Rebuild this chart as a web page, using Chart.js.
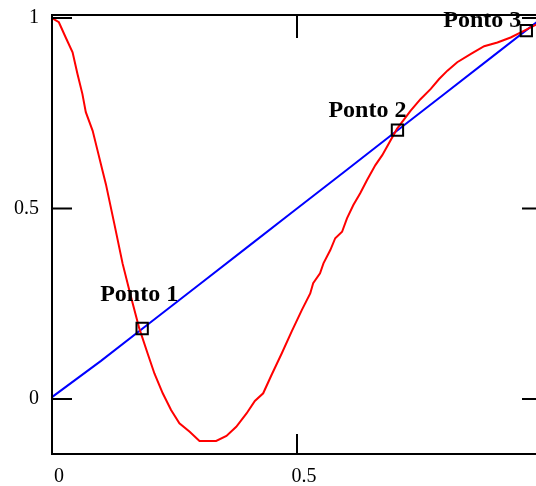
<!DOCTYPE html>
<html>
<head>
<meta charset="utf-8">
<script src="https://cdn.jsdelivr.net/npm/chart.js@4"></script>
<style>
  html, body { margin:0; padding:0; background:#fff; overflow:hidden; }
  #wrap { width:552px; height:486px; }
</style>
</head>
<body>
<div id="wrap"><canvas id="plot" width="552" height="486"></canvas></div>
<script>
// curve f (red), sampled
const redX = [0, 0.014, 0.028, 0.042, 0.052, 0.062, 0.069, 0.083, 0.093, 0.103, 0.110, 0.127,
  0.144, 0.161, 0.178, 0.195, 0.209, 0.226, 0.243, 0.260, 0.281, 0.301, 0.335, 0.356, 0.376,
  0.397, 0.414, 0.431, 0.448, 0.469, 0.489, 0.510, 0.527, 0.533, 0.547, 0.554, 0.568, 0.578,
  0.592, 0.602, 0.615, 0.629, 0.643, 0.660, 0.674, 0.704, 0.732, 0.752, 0.773, 0.790, 0.807,
  0.827, 0.855, 0.882, 0.909, 0.936, 0.964, 0.984, 1.0];
const redY = [1.0, 0.989, 0.949, 0.910, 0.853, 0.801, 0.753, 0.704, 0.652, 0.600, 0.564, 0.461,
  0.356, 0.269, 0.186, 0.120, 0.067, 0.015, -0.029, -0.064, -0.086, -0.110, -0.110, -0.097, -0.073,
  -0.038, -0.005, 0.015, 0.063, 0.120, 0.177, 0.234, 0.277, 0.304, 0.330, 0.356, 0.391, 0.422,
  0.439, 0.474, 0.509, 0.540, 0.575, 0.614, 0.640, 0.709, 0.757, 0.787, 0.814, 0.840, 0.862,
  0.884, 0.906, 0.926, 0.936, 0.949, 0.967, 0.980, 0.990];

// identity line (blue)
const blueX = [0, 0.1, 0.2, 0.3, 0.4, 0.5, 0.6, 0.7, 0.8, 0.9, 1.0];
const blueY = [0.005, 0.1, 0.2, 0.3, 0.4, 0.5, 0.6, 0.7, 0.8, 0.9, 1.0];

// intersection points
const pontoX = [0.184, 0.705, 0.968];
const pontoY = [0.185, 0.706, 0.967];
const pontoLabels = ['Ponto 1', 'Ponto 2', 'Ponto 3'];
// where each label sits relative to its marker (px)
const labelShift = [[-42, -28], [-69, -13], [-83, -4]];

const xTicks = [0, 0.5, 1];
const xTickLabels = [0, 0.5];
const yTicks = [0, 0.5, 1];

const toPts = (xs, ys) => xs.map((x, i) => ({ x, y: ys[i] }));

const frame = {
  id: 'frame',
  afterDatasetsDraw(chart) {
    const { ctx, chartArea: a, scales: { x, y } } = chart;
    ctx.save();
    ctx.strokeStyle = '#000';
    ctx.lineWidth = 2;
    ctx.strokeRect(a.left, a.top, a.right - a.left, a.bottom - a.top);
    ctx.beginPath();
    yTicks.forEach(v => {
      const py = y.getPixelForValue(v);
      ctx.moveTo(a.left, py); ctx.lineTo(a.left + 20, py);
      ctx.moveTo(a.right, py); ctx.lineTo(a.right - 20, py);
    });
    xTicks.forEach(v => {
      const px = x.getPixelForValue(v);
      ctx.moveTo(px, a.bottom); ctx.lineTo(px, a.bottom - 20);
      ctx.moveTo(px, a.top); ctx.lineTo(px, a.top + 23);
    });
    ctx.stroke();

    ctx.fillStyle = '#000';
    ctx.font = 'bold 24px "Liberation Serif", "Times New Roman", serif';
    ctx.textAlign = 'left';
    ctx.textBaseline = 'alphabetic';
    pontoLabels.forEach((t, i) => {
      const px = x.getPixelForValue(pontoX[i]);
      const py = y.getPixelForValue(pontoY[i]);
      ctx.fillText(t, px + labelShift[i][0], py + labelShift[i][1]);
    });
    ctx.restore();
  }
};

const serif = { family: '"Liberation Serif", "Times New Roman", serif', size: 20 };

new Chart(document.getElementById('plot'), {
  type: 'scatter',
  data: {
    datasets: [
      {
        data: toPts(pontoX, pontoY), order: 0, showLine: false,
        pointStyle: 'rect', pointRadius: 8, pointBorderWidth: 2,
        pointBorderColor: '#000', pointBackgroundColor: 'rgba(0,0,0,0)'
      },
      {
        data: toPts(redX, redY), order: 1, showLine: true,
        borderColor: '#ff0000', borderWidth: 2, pointRadius: 0, tension: 0
      },
      {
        data: toPts(blueX, blueY), order: 2, showLine: true,
        borderColor: '#0000ff', borderWidth: 2, pointRadius: 0, tension: 0
      }
    ]
  },
  options: {
    responsive: false,
    animation: false,
    events: [],
    layout: { padding: { top: 15, right: 5, left: 0, bottom: 0 } },
    plugins: { legend: { display: false }, tooltip: { enabled: false } },
    scales: {
      x: {
        min: 0, max: 1,
        grid: { display: false, drawTicks: false },
        border: { display: false },
        afterBuildTicks: s => { s.ticks = xTickLabels.map(v => ({ value: v })); },
        afterFit: s => { s.height = 32; s.paddingLeft = 0; s.paddingRight = 0; },
        ticks: {
          color: '#000', font: serif, padding: 11, labelOffset: 7,
          autoSkip: false, maxRotation: 0, callback: v => String(v)
        }
      },
      y: {
        min: -0.1444, max: 1.008,
        grid: { display: false, drawTicks: false },
        border: { display: false },
        afterBuildTicks: s => { s.ticks = yTicks.map(v => ({ value: v })); },
        afterFit: s => { s.width = 52; s.paddingTop = 0; s.paddingBottom = 0; },
        ticks: {
          color: '#000', font: serif, padding: 13,
          autoSkip: false, callback: v => String(v)
        }
      }
    }
  },
  plugins: [frame]
});
</script>
</body>
</html>
